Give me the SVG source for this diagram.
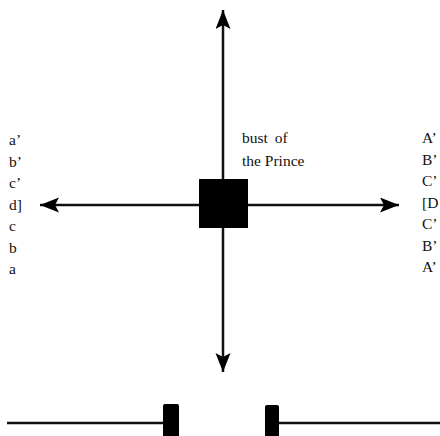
<svg xmlns="http://www.w3.org/2000/svg" width="440" height="436" viewBox="0 0 440 436">
  <style>
    .ln { stroke: #111; stroke-width: 2.5; fill: none; }
    .lbl { font-family: "Liberation Serif", "Times New Roman", serif; font-size: 15.5px; fill: #111; }
    .blk { fill: #000; }
  </style>
  <defs>
    <marker id="ah" markerUnits="userSpaceOnUse" markerWidth="22" markerHeight="16" refX="19" refY="7.5" orient="auto">
      <path d="M0,0 L19,7.5 L0,15 L4,7.5 z" fill="#000"/>
    </marker>
  </defs>
  <rect width="440" height="436" fill="#fff"/>
  <g id="connectors">
    <line class="ln" x1="223" y1="205" x2="223" y2="10" marker-end="url(#ah)"/>
    <line class="ln" x1="223" y1="205" x2="223" y2="372" marker-end="url(#ah)"/>
    <line class="ln" x1="223" y1="205" x2="40" y2="205" marker-end="url(#ah)"/>
    <line class="ln" x1="223" y1="205" x2="399" y2="205" marker-end="url(#ah)"/>
    <line class="ln" x1="7" y1="423" x2="164" y2="423"/>
    <line class="ln" x1="278" y1="423" x2="440" y2="423"/>
  </g>
  <g id="bust">
    <rect class="blk" x="199" y="179" width="49" height="49"/>
    <text class="lbl" x="242" y="143" word-spacing="3">bust of</text>
    <text class="lbl" x="242" y="166">the Prince</text>
  </g>
  <g id="left-labels">
    <text class="lbl" x="9" y="145">a’</text>
    <text class="lbl" x="9" y="166.5">b’</text>
    <text class="lbl" x="9" y="188">c’</text>
    <text class="lbl" x="9" y="209.5">d]</text>
    <text class="lbl" x="9" y="231">c</text>
    <text class="lbl" x="9" y="252.5">b</text>
    <text class="lbl" x="9" y="274">a</text>
  </g>
  <g id="right-labels">
    <text class="lbl" x="422" y="143">A’</text>
    <text class="lbl" x="422" y="164.5">B’</text>
    <text class="lbl" x="422" y="186">C’</text>
    <text class="lbl" x="422" y="207.5">[D</text>
    <text class="lbl" x="422" y="229">C’</text>
    <text class="lbl" x="422" y="250.5">B’</text>
    <text class="lbl" x="422" y="272">A’</text>
  </g>
  <g id="bottom-left">
    <rect class="blk" x="163" y="404" width="16" height="34" rx="2"/>
  </g>
  <g id="bottom-right">
    <rect class="blk" x="265" y="405" width="14" height="33" rx="2"/>
  </g>
</svg>
